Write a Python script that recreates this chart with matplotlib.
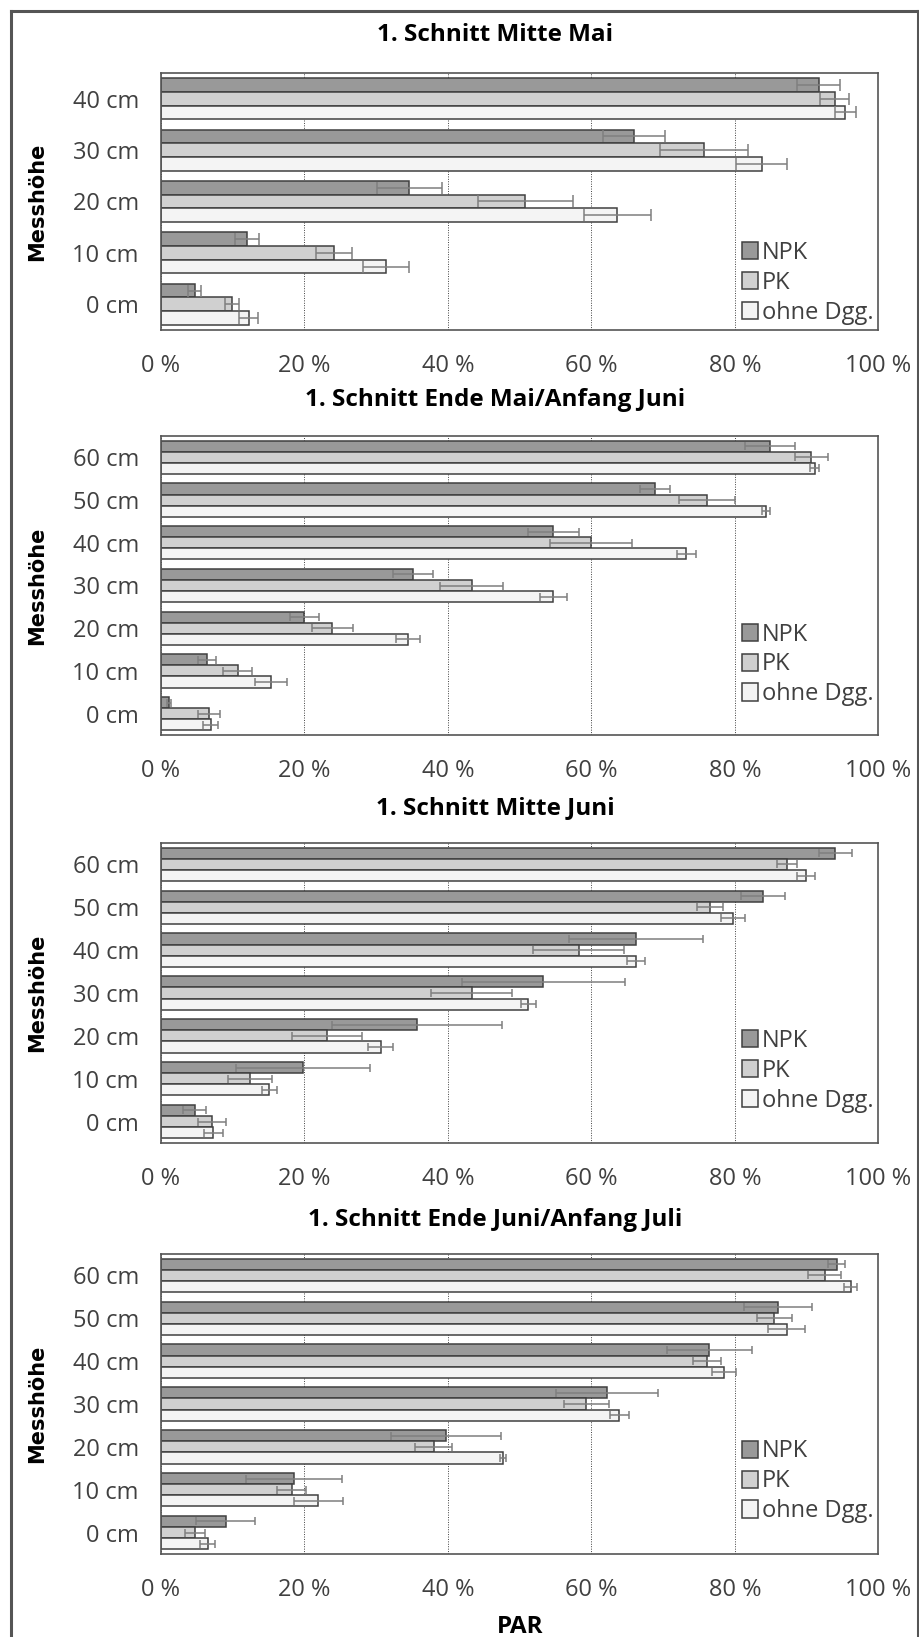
import numpy as np
import matplotlib
matplotlib.use("Agg")
import matplotlib.pyplot as plt
from matplotlib.lines import Line2D
from matplotlib.patches import Patch
from matplotlib.ticker import FuncFormatter

plt.rcParams['font.family'] = ['Open Sans', 'DejaVu Sans']

# ---- data (values in %, listed from 0 cm upwards) ----
titles = ["1. Schnitt Mitte Mai",
          "1. Schnitt Ende Mai/Anfang Juni",
          "1. Schnitt Mitte Juni",
          "1. Schnitt Ende Juni/Anfang Juli"]
heights_short = ["0 cm", "10 cm", "20 cm", "30 cm", "40 cm"]
heights_long = ["0 cm", "10 cm", "20 cm", "30 cm", "40 cm", "50 cm", "60 cm"]
series = ["NPK", "PK", "ohne Dgg."]

npk1 = [4.7, 12.0, 34.6, 65.9, 91.7]
npk1_err = [0.9, 1.7, 4.5, 4.3, 3.0]
pk1 = [9.9, 24.1, 50.8, 75.7, 93.9]
pk1_err = [1.0, 2.5, 6.6, 6.1, 2.0]
ohne1 = [12.2, 31.4, 63.6, 83.7, 95.4]
ohne1_err = [1.3, 3.2, 4.7, 3.5, 1.5]

npk2 = [1.1, 6.4, 20.0, 35.1, 54.7, 68.9, 84.9]
npk2_err = [0.3, 1.3, 2.0, 2.8, 3.6, 2.1, 3.5]
pk2 = [6.7, 10.7, 23.9, 43.3, 59.9, 76.1, 90.6]
pk2_err = [1.5, 2.0, 2.8, 4.4, 5.7, 3.9, 2.3]
ohne2 = [6.9, 15.3, 34.4, 54.7, 73.2, 84.3, 91.1]
ohne2_err = [1.1, 2.2, 1.7, 1.9, 1.3, 0.6, 0.6]

npk3 = [4.7, 19.8, 35.7, 53.3, 66.2, 83.9, 94.0]
npk3_err = [1.6, 9.3, 11.8, 11.4, 9.3, 3.1, 2.3]
pk3 = [7.1, 12.4, 23.1, 43.3, 58.2, 76.5, 87.2]
pk3_err = [1.9, 3.1, 4.9, 5.6, 6.3, 1.8, 1.4]
ohne3 = [7.3, 15.1, 30.6, 51.2, 66.2, 79.7, 89.9]
ohne3_err = [1.3, 1.0, 1.7, 1.0, 1.2, 1.7, 1.3]

npk4 = [9.0, 18.5, 39.7, 62.2, 76.4, 86.0, 94.2]
npk4_err = [4.1, 6.7, 7.7, 7.1, 5.9, 4.8, 1.2]
pk4 = [4.7, 18.2, 38.0, 59.3, 76.1, 85.5, 92.5]
pk4_err = [1.4, 2.0, 2.6, 3.1, 2.0, 2.5, 2.3]
ohne4 = [6.5, 21.9, 47.7, 63.9, 78.5, 87.2, 96.1]
ohne4_err = [1.0, 3.4, 0.4, 1.3, 1.7, 2.6, 0.9]

panels = [
    (heights_short, [npk1, pk1, ohne1], [npk1_err, pk1_err, ohne1_err]),
    (heights_long, [npk2, pk2, ohne2], [npk2_err, pk2_err, ohne2_err]),
    (heights_long, [npk3, pk3, ohne3], [npk3_err, pk3_err, ohne3_err]),
    (heights_long, [npk4, pk4, ohne4], [npk4_err, pk4_err, ohne4_err]),
]

# ---- styling ----
W, H = 920, 1637
colors = ['#999999', '#d0d0d0', '#f4f4f4']
edge = '#404040'
txt = '#404040'
# axes boxes in pixels: (top, bottom)
boxes = [(73, 330), (436, 735), (843, 1143), (1254, 1554)]
title_y = [35, 400, 808, 1220]
leg_y = [0.184, 0.236, 0.241, 0.242]
ax_left, ax_right = 161, 878.5

fig = plt.figure(figsize=(W / 100, H / 100), dpi=100)

for k, (labels, vals, errs) in enumerate(panels):
    top, bot = boxes[k]
    ax = fig.add_axes([ax_left / W, 1 - bot / H, (ax_right - ax_left) / W, (bot - top) / H])
    n = len(labels)
    y = np.arange(n)
    h = 0.8 / 3 if k == 0 else 0.26
    cap = 4.2 if k == 0 else 3.2
    offs = [h, 0, -h]
    for s in range(3):
        v = np.array(vals[s]) / 100
        e = np.array(errs[s]) / 100
        ax.barh(y + offs[s], v, height=h, color=colors[s], edgecolor=edge,
                linewidth=1.1, zorder=2)
        ax.errorbar(v, y + offs[s], xerr=e, fmt='none', ecolor='#7f7f7f',
                    elinewidth=1.1, capsize=cap, capthick=1.1, zorder=3)
    ax.set_xlim(0, 1)
    ax.set_ylim(-0.5, n - 0.5)
    ax.set_xticks(np.arange(0, 1.01, 0.2))
    ax.xaxis.set_major_formatter(FuncFormatter(lambda x, p: f"{int(round(x * 100))} %"))
    ax.set_yticks(y)
    ax.set_yticklabels(labels)
    ax.tick_params(axis='x', length=0, pad=17, labelsize=17, labelcolor=txt)
    ax.tick_params(axis='y', length=0, pad=16, labelsize=17, labelcolor=txt)
    ax.grid(axis='x', color='#404040', linestyle=(0, (1, 1.5)), linewidth=0.7, zorder=0)
    ax.set_axisbelow(True)
    for sp in ax.spines.values():
        sp.set_color('#555555')
        sp.set_linewidth(1.2)
    ax.set_ylabel("Messhöhe", family='DejaVu Sans', fontweight='bold',
                  fontsize=15, color='black')
    ax.yaxis.set_label_coords((47 - ax_left) / (ax_right - ax_left), 0.5)
    handles = [Patch(facecolor=c, edgecolor=edge, linewidth=1.1) for c in colors]
    ax.legend(handles, series, loc='center left', bbox_to_anchor=(0.81, leg_y[k]),
              frameon=False, fontsize=17, handlelength=0.65, handleheight=0.75,
              handletextpad=0.2, labelspacing=0.25, borderpad=0, borderaxespad=0,
              labelcolor=txt)
    fig.text(495 / W, 1 - title_y[k] / H, titles[k], ha='center', va='center',
             fontsize=17.5, fontweight='bold', color='black')

fig.text((ax_left + ax_right) / 2 / W, 1 - 1627 / H, "PAR", ha='center', va='center',
         fontsize=17.5, fontweight='bold', color='black')

# outer frame
fc = '#555555'
fig.add_artist(Line2D([11 / W, 11 / W], [0, 1 - 11 / H], color=fc, lw=2.2))
fig.add_artist(Line2D([11 / W, 918.5 / W], [1 - 11 / H, 1 - 11 / H], color=fc, lw=2.2))
fig.add_artist(Line2D([918.5 / W, 918.5 / W], [0, 1 - 11 / H], color=fc, lw=2.2))

fig.savefig("out.png", dpi=100)
